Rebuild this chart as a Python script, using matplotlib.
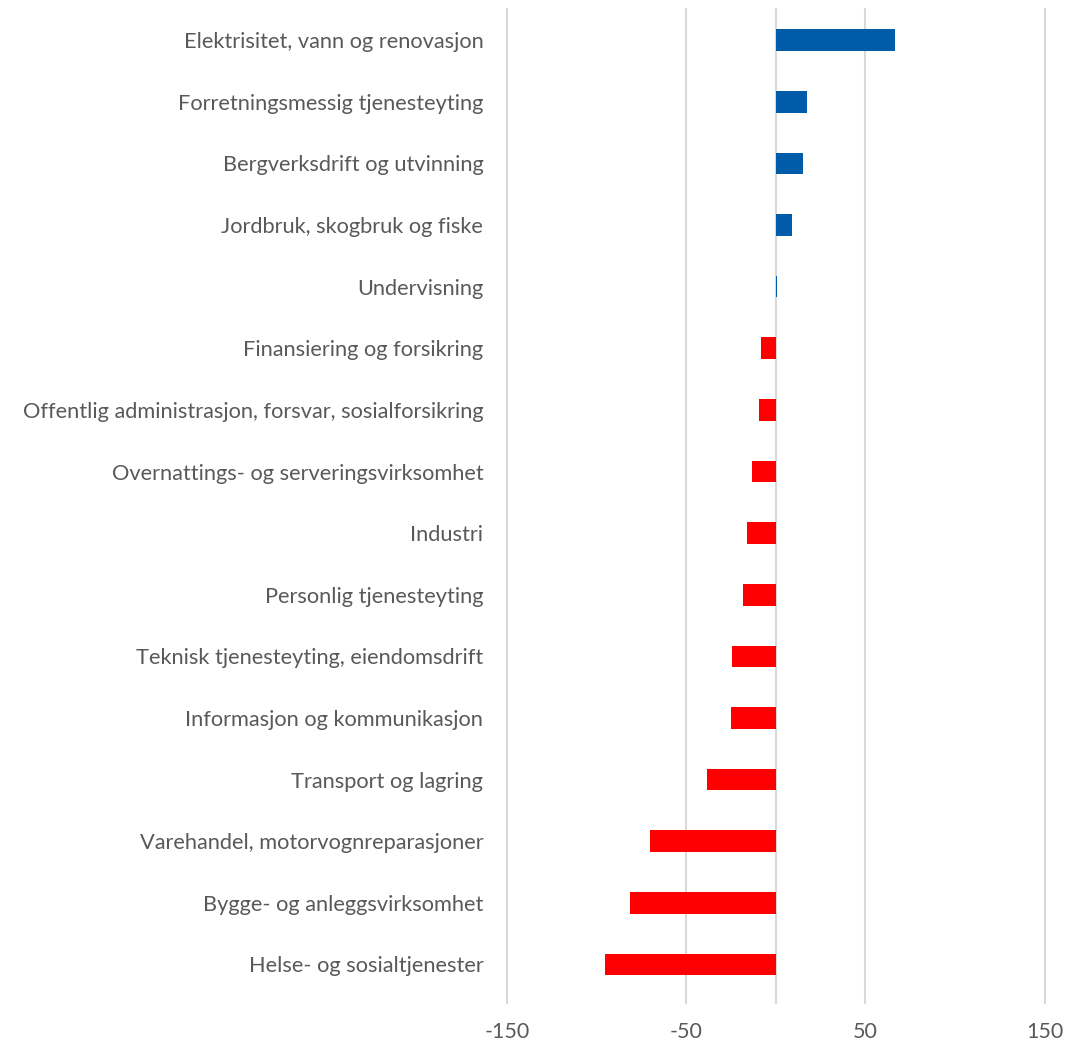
import matplotlib
matplotlib.use('Agg')
from matplotlib import pyplot as plt

naeringer = [
    'Elektrisitet, vann og renovasjon',
    'Forretningsmessig tjenesteyting',
    'Bergverksdrift og utvinning',
    'Jordbruk, skogbruk og fiske',
    'Undervisning',
    'Finansiering og forsikring',
    'Offentlig administrasjon, forsvar, sosialforsikring',
    'Overnattings- og serveringsvirksomhet',
    'Industri',
    'Personlig tjenesteyting',
    'Teknisk tjenesteyting, eiendomsdrift',
    'Informasjon og kommunikasjon',
    'Transport og lagring',
    'Varehandel, motorvognreparasjoner',
    'Bygge- og anleggsvirksomhet',
    'Helse- og sosialtjenester',
]
endring = [66.2, 17.3, 15.0, 8.8, 0.8, -8.2, -9.3, -13.2, -16.0, -18.2,
           -24.4, -24.9, -38.3, -70.1, -81.3, -95.2]

gridverdier = [-150, -50, 0, 50, 150]
tickverdier = [-150, -50, 50, 150]

plt.rcParams['font.family'] = ['Lato', 'DejaVu Sans']
tekstfarge = '#595959'

fig = plt.figure(figsize=(10.65, 10.4), dpi=100)
ax = fig.add_axes([0.476, 0.043, 0.505, 0.948])

y = list(range(len(naeringer)))
farger = ['#005ca8' if v >= 0 else '#ff0000' for v in endring]
ax.barh(y, endring, height=0.35, color=farger, zorder=3)

for g in gridverdier:
    ax.axvline(g, ymin=-0.008, ymax=1, color='#d9d9d9', linewidth=1.5,
               zorder=1, clip_on=False)

ax.set_xlim(-150, 150)
ax.set_ylim(len(naeringer) - 0.5, -0.5)
ax.set_yticks(y)
ax.set_yticklabels(naeringer, fontsize=15.7, color=tekstfarge)
ax.set_xticks(tickverdier)
ax.set_xticklabels([str(t) for t in tickverdier], fontsize=15.5, color=tekstfarge)
ax.tick_params(axis='both', length=0)
ax.tick_params(axis='y', pad=17)
ax.tick_params(axis='x', pad=19)
for s in ax.spines.values():
    s.set_visible(False)

fig.savefig('out.png', dpi=100, facecolor='white')
